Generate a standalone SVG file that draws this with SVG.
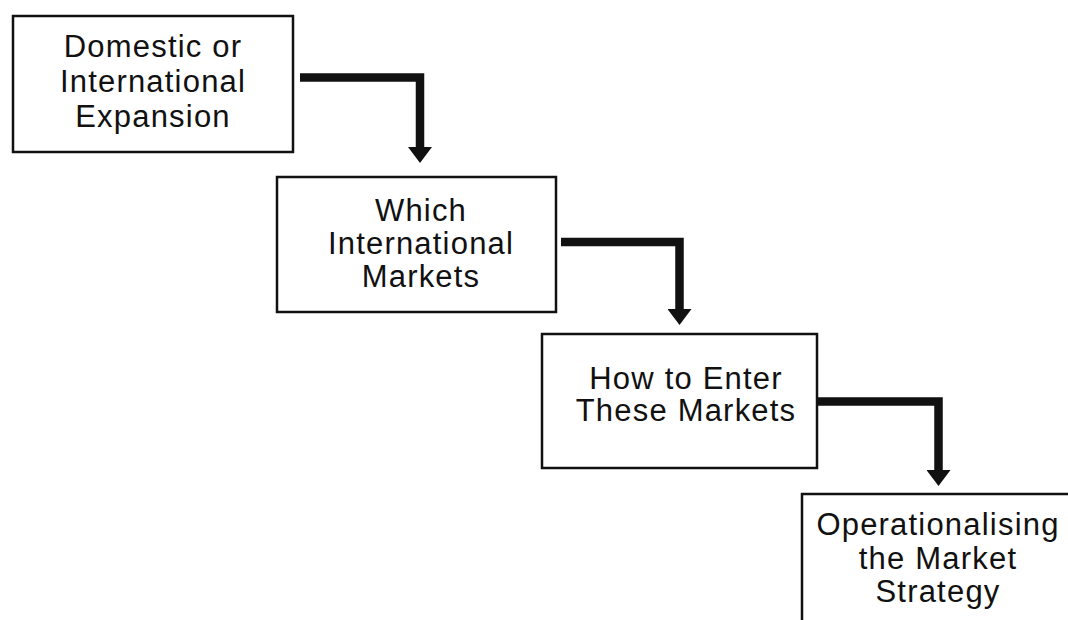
<svg xmlns="http://www.w3.org/2000/svg" width="1068" height="620" viewBox="0 0 1068 620">
  <style>
    .box { fill: #ffffff; stroke: #111111; stroke-width: 2.5; }
    .label { font-family: "Liberation Sans", Arial, sans-serif; font-size: 31px; letter-spacing: 1.2px; fill: #111111; text-anchor: middle; }
    .flow { fill: none; stroke: #111111; stroke-width: 8.5; stroke-linejoin: miter; stroke-linecap: butt; marker-end: url(#head); }
  </style>
  <defs>
    <marker id="head" viewBox="0 -12 16 24" refX="0" refY="0" markerWidth="16" markerHeight="24" markerUnits="userSpaceOnUse" orient="auto">
      <path d="M0,-12 L16,0 L0,12 Z" fill="#111111"/>
    </marker>
  </defs>
  <rect width="1068" height="620" fill="#ffffff"/>

  <g id="connectors">
    <path class="flow" d="M300,77.5 H420 V147"/>
    <path class="flow" d="M561,242 H679.5 V309"/>
    <path class="flow" d="M817,401.5 H938.5 V470"/>
  </g>

  <g id="node-expansion">
    <rect class="box" x="13" y="16" width="280" height="136"/>
    <text class="label" x="153" y="57">Domestic or</text>
    <text class="label" x="153" y="92">International</text>
    <text class="label" x="153" y="127">Expansion</text>
  </g>

  <g id="node-markets">
    <rect class="box" x="277" y="177" width="279" height="135"/>
    <text class="label" x="421" y="221">Which</text>
    <text class="label" x="421" y="254">International</text>
    <text class="label" x="421" y="287">Markets</text>
  </g>

  <g id="node-entry">
    <rect class="box" x="542" y="334" width="275" height="134"/>
    <text class="label" x="686" y="389">How to Enter</text>
    <text class="label" x="686" y="421">These Markets</text>
  </g>

  <g id="node-operations">
    <rect class="box" x="802" y="494" width="280" height="140"/>
    <text class="label" x="938" y="535">Operationalising</text>
    <text class="label" x="938" y="569">the Market</text>
    <text class="label" x="938" y="602">Strategy</text>
  </g>
</svg>
